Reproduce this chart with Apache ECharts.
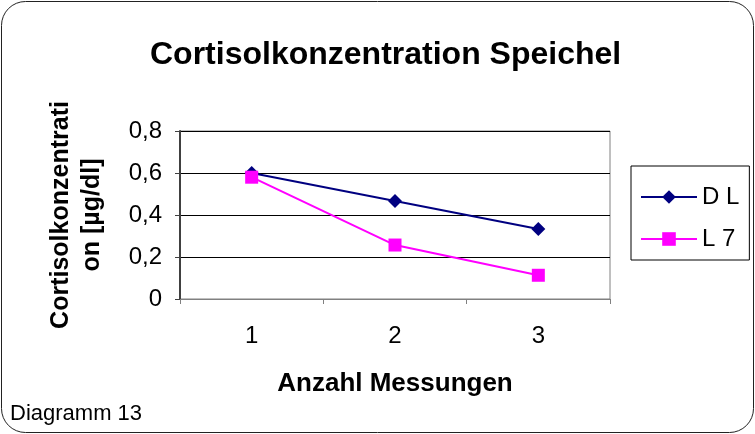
<!DOCTYPE html>
<html lang="de">
<head>
    <meta charset="UTF-8">
    <title>Cortisolkonzentration Speichel</title>
    <script src="https://cdn.jsdelivr.net/npm/echarts@6/dist/echarts.min.js"></script>
    <style>
        html, body { margin: 0; padding: 0; background: #fff; }
        #chart { width: 755px; height: 434px; }
    </style>
</head>
<body>
<div id="chart"></div>
<script type="text/javascript">
    // Messungen (x-Achse)
    var messungen = ['1', '2', '3'];
    // Werte
    var werteDL = [0.60, 0.467, 0.333];
    var werteL7 = [0.58, 0.257, 0.113];
    var yTicks = [0, 0.2, 0.4, 0.6, 0.8];

    var font = '"Liberation Sans", Arial, sans-serif';
    var myChart = echarts.init(document.getElementById('chart'));

    myChart.setOption({
        animation: false,
        backgroundColor: '#ffffff',
        textStyle: { fontFamily: font },
        title: {
            text: 'Cortisolkonzentration Speichel',
            left: 145,
            top: 34,
            textStyle: { fontFamily: font, fontSize: 32, fontWeight: 'bold', color: '#000' }
        },
        legend: {
            orient: 'vertical',
            left: 631,
            top: 166,
            padding: [19, 10, 9, 9],
            borderColor: '#000',
            borderWidth: 1,
            itemWidth: 56,
            itemHeight: 17,
            itemGap: 18,
            textStyle: { fontFamily: font, fontSize: 24, color: '#000' },
            data: ['D L', 'L 7']
        },
        grid: {
            left: 180,
            right: 145,
            top: 131,
            bottom: 135,
            show: true,
            borderColor: '#808080',
            borderWidth: 1,
            backgroundColor: '#fff'
        },
        xAxis: {
            type: 'category',
            data: messungen,
            boundaryGap: true,
            name: 'Anzahl Messungen',
            nameLocation: 'middle',
            nameGap: 72,
            nameTextStyle: { fontFamily: font, fontSize: 26, fontWeight: 'bold', color: '#000' },
            axisLine: { lineStyle: { color: '#808080', width: 1 } },
            axisTick: { show: true, length: 5, lineStyle: { color: '#808080' } },
            axisLabel: { fontFamily: font, fontSize: 24, color: '#000', margin: 25 },
            splitLine: { show: false }
        },
        yAxis: {
            type: 'value',
            min: yTicks[0],
            max: yTicks[yTicks.length - 1],
            interval: 0.2,
            name: 'Cortisolkonzentrati\non [µg/dl]',
            nameLocation: 'middle',
            nameRotate: 90,
            nameGap: 72,
            nameTextStyle: { fontFamily: font, fontSize: 25, fontWeight: 'bold', color: '#000', lineHeight: 31 },
            axisLine: { show: true, lineStyle: { color: '#404040', width: 2 } },
            axisTick: { show: true, length: 5, lineStyle: { color: '#404040' } },
            axisLabel: {
                fontFamily: font, fontSize: 24, color: '#000', margin: 18,
                formatter: function (v) { return v === 0 ? '0' : v.toFixed(1).replace('.', ','); }
            },
            splitLine: { show: true, lineStyle: { color: '#000', width: 1 } }
        },
        series: [
            {
                name: 'D L',
                type: 'line',
                data: werteDL,
                symbol: 'diamond',
                symbolSize: 14,
                color: '#000080',
                lineStyle: { color: '#000080', width: 2 },
                itemStyle: { color: '#000080' }
            },
            {
                name: 'L 7',
                type: 'line',
                data: werteL7,
                symbol: 'rect',
                symbolSize: 13,
                color: '#ff00ff',
                lineStyle: { color: '#ff00ff', width: 2 },
                itemStyle: { color: '#ff00ff' }
            }
        ],
        graphic: [
            {
                type: 'rect',
                shape: { x: 1.5, y: 1.5, width: 752, height: 431, r: 24 },
                style: { fill: null, stroke: '#222', lineWidth: 1 },
                silent: true
            },
            {
                type: 'text',
                left: 10,
                top: 403,
                style: { text: 'Diagramm 13', fontFamily: font, fontSize: 22, fill: '#000' }
            }
        ]
    });
</script>
</body>
</html>
